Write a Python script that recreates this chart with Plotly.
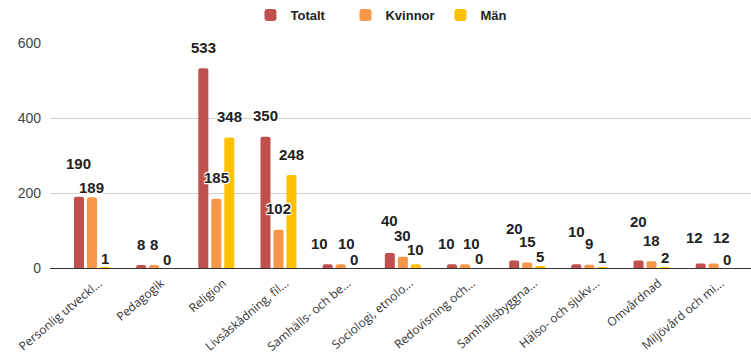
import plotly.graph_objects as go

# Utbildningsområden (truncated as shown on the axis)
categories = [
    "Personlig utveckl...", "Pedagogik", "Religion", "Livsåskådning, fil...",
    "Samhälls- och be...", "Sociologi, etnolo...", "Redovisning och...",
    "Samhällsbyggna...", "Hälso- och sjukv...", "Omvårdnad", "Miljövård och mi...",
]
totalt = [190, 8, 533, 350, 10, 40, 10, 20, 10, 20, 12]
kvinnor = [189, 8, 185, 102, 10, 30, 10, 15, 9, 18, 12]
man = [1, 0, 348, 248, 0, 10, 0, 5, 1, 2, 0]

series_names = ["Totalt", "Kvinnor", "Män"]
series_values = [totalt, kvinnor, man]
series_colors = ["#C0504D", "#F79646", "#FFC000"]

# Label placement (pixels): lift above bar top and sideways nudge, per series
label_lift = [
    [33, 21, 21, 21, 21, 33, 21, 32, 33, 39, 26],
    [10, 21, 21, 21, 21, 21, 21, 21, 21, 21, 26],
    [9, 9, 21, 21, 9, 15, 10, 10, 10, 10, 9],
]
label_nudge = [
    [0, 0, 0, 0, -8, 0, -6, 0, 0, 0, -6],
    [0, 0, 0, 0, 6, 0, 6, 0, 0, 0, 8],
    [0, 0, 0, 0, 0, 0, 1, 0, 0, 0, 0],
]
slot_px = [-13, 0, 13]

fig = go.Figure()
for name, vals, col in zip(series_names, series_values, series_colors):
    fig.add_trace(go.Bar(
        x=list(range(len(categories))), y=vals, name=name,
        marker=dict(color=col, line=dict(width=0)),
    ))

halo = ("1px 1px 1px #fff, -1px -1px 1px #fff, 1px -1px 1px #fff, "
        "-1px 1px 1px #fff, 0 1px 1px #fff, 0 -1px 1px #fff")
annotations = []
for s, vals in enumerate(series_values):
    for i, v in enumerate(vals):
        annotations.append(dict(
            x=i, y=v, xref="x", yref="y", text=str(v), showarrow=False,
            xshift=slot_px[s] + label_nudge[s][i], yshift=label_lift[s][i],
            xanchor="center", yanchor="middle",
            font=dict(family="Liberation Sans", size=15, color="#222",
                      weight="bold", shadow=halo),
        ))

fig.update_layout(
    width=751, height=357,
    margin=dict(l=50, r=0, t=43, b=89),
    paper_bgcolor="white", plot_bgcolor="white",
    barmode="group", bargap=0.373, bargroupgap=0.23, barcornerradius=2,
    showlegend=True,
    legend=dict(
        orientation="h", x=0.286, xanchor="left", y=1.0, yanchor="top",
        yref="container", entrywidth=50, entrywidthmode="pixels",
        font=dict(family="Liberation Sans", size=13, color="#222", weight="bold"),
        itemsizing="constant", traceorder="normal",
    ),
    annotations=annotations,
    font=dict(family="Liberation Sans"),
)

fig.update_xaxes(
    tickmode="array", tickvals=list(range(len(categories))), ticktext=categories,
    range=[-0.675, 10.6], tickangle=-40, showgrid=False, zeroline=False,
    showline=False, ticks="", ticklabelshift=7, ticklabelstandoff=5,
    tickfont=dict(family="Open Sans", size=12, color="#333"),
)
fig.update_yaxes(
    range=[0, 600], tickvals=[0, 200, 400, 600], showgrid=True,
    gridcolor="#D0D0D0", gridwidth=1, zeroline=True, zerolinecolor="#333",
    zerolinewidth=1, tickfont=dict(family="Liberation Sans", size=14, color="#444"),
    ticks="", ticklabelstandoff=8,
)

fig.write_html("out.html")
